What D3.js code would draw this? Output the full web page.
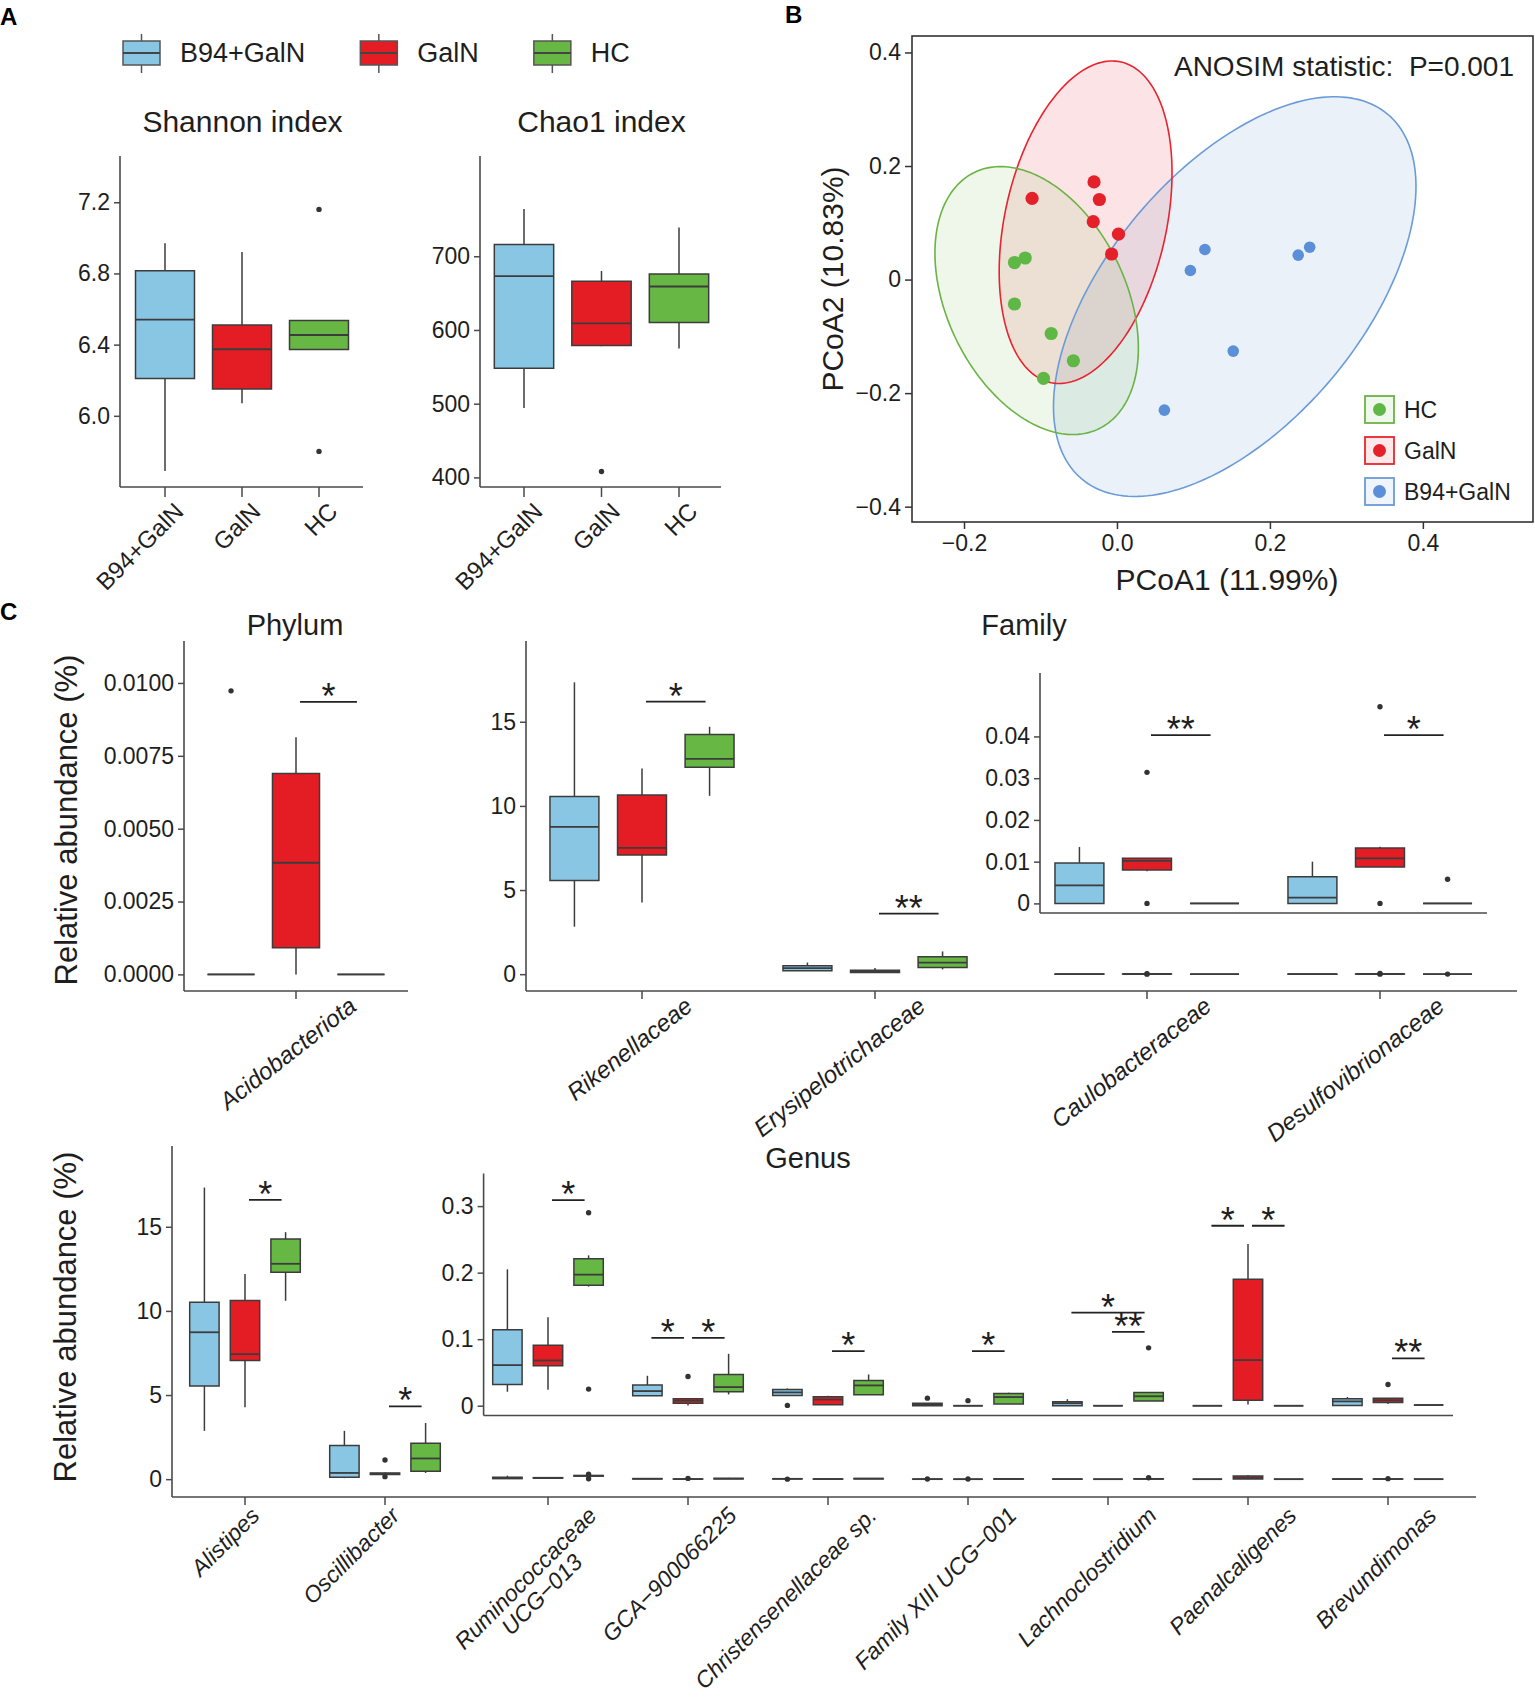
<!DOCTYPE html>
<html>
<head>
<meta charset="utf-8">
<script src="https://cdn.jsdelivr.net/npm/d3@7"></script>
<style>
  body { margin: 0; background: #fff; }
  svg { display: block; font-family: "Liberation Sans", Arial, Helvetica, sans-serif; }
</style>
</head>
<body>
<svg id="fig" width="1535" height="1698"></svg>
<script>
// ---------- data ----------
var groups = ["B94+GalN", "GalN", "HC"];

// A: alpha diversity, each box = [min, q1, median, q3, max]
var shannonBox = [[5.69, 6.21, 6.54, 6.815, 6.97], [6.07, 6.15, 6.374, 6.51, 6.92], [6.372, 6.372, 6.454, 6.535, 6.535]];
var shannonOut = [[], [], [7.16, 5.80]];
var shannonTicks = [6.0, 6.4, 6.8, 7.2];
var chaoBox = [[494, 548, 673, 716, 764], [578, 579, 609, 666, 680], [575, 610, 659, 676, 739]];
var chaoOut = [[], [408], []];
var chaoTicks = [400, 500, 600, 700];

// B: PCoA scores
var hcX = [-0.134, -0.120, -0.134, -0.086, -0.057, -0.096];
var hcY = [0.030, 0.038, -0.043, -0.095, -0.143, -0.174];
var galnX = [-0.030, -0.023, -0.111, -0.031, 0.002, -0.007];
var galnY = [0.172, 0.141, 0.143, 0.102, 0.080, 0.045];
var b94X = [0.115, 0.096, 0.237, 0.252, 0.152, 0.062];
var b94Y = [0.053, 0.016, 0.043, 0.057, -0.126, -0.230];
// ellipses: [centre x, centre y, half x-extent, half y-extent, correlation]
var ellHC = [-0.105, -0.037, 0.133, 0.236, -0.355];
var ellGalN = [-0.041, 0.101, 0.113, 0.284, 0.306];
var ellB94 = [0.154, -0.030, 0.237, 0.352, 0.551];
var pcoaXTicks = [-0.2, 0, 0.2, 0.4], pcoaXLabels = ["\u22120.2", "0.0", "0.2", "0.4"];
var pcoaYTicks = [-0.4, -0.2, 0, 0.2, 0.4], pcoaYLabels = ["\u22120.4", "\u22120.2", "0", "0.2", "0.4"];

// C: relative abundance
var phylumTaxa = ["Acidobacteriota"];
var phylumBox = [[[0, 0, 0, 0, 0], [0, 0.00091, 0.00383, 0.00689, 0.00814], [0, 0, 0, 0, 0]]];
var phylumOut = [[[0.00973], [], []]];
var phylumSig = [["Acidobacteriota", "GalN", "HC", 0.00935, "*"]];
var phylumTicks = [0, 0.0025, 0.005, 0.0075, 0.01];

var familyTaxa = ["Rikenellaceae", "Erysipelotrichaceae"];
var familyBox = [
  [[2.82, 5.56, 8.75, 10.56, 17.34], [4.26, 7.08, 7.5, 10.65, 12.22], [10.6, 12.3, 12.8, 14.25, 14.7]],
  [[0.2, 0.2, 0.36, 0.5, 0.69], [0.1, 0.1, 0.18, 0.24, 0.36], [0.28, 0.4, 0.69, 1.03, 1.35]]
];
var familyOut = [[[], [], []], [[], [], []]];
var familySig = [["Rikenellaceae", "GalN", "HC", 16.2, "*"], ["Erysipelotrichaceae", "GalN", "HC", 3.6, "**"]];
var familyInTaxa = ["Caulobacteraceae", "Desulfovibrionaceae"];
var familyInBox = [
  [[0, 0, 0.0043, 0.0097, 0.0135], [0.0077, 0.008, 0.0102, 0.0108, 0.0108], [0, 0, 0, 0, 0]],
  [[0, 0, 0.0014, 0.0064, 0.01], [0.0087, 0.0087, 0.0108, 0.0133, 0.0136], [0, 0, 0, 0, 0]]
];
var familyInOut = [[[], [0.0314, 0], []], [[], [0.0471, 0], [0.0058]]];
var familyInSig = [["Caulobacteraceae", "GalN", "HC", 0.0403, "**"], ["Desulfovibrionaceae", "GalN", "HC", 0.0403, "*"]];
var mainTicks = [0, 5, 10, 15];
var familyInTicks = [0, 0.01, 0.02, 0.03, 0.04], familyInLabels = ["0", "0.01", "0.02", "0.03", "0.04"];

var genusTaxa = ["Alistipes", "Oscillibacter"];
var genusBox = [
  [[2.87, 5.54, 8.73, 10.52, 17.33], [4.27, 7.05, 7.43, 10.62, 12.2], [10.6, 12.3, 12.8, 14.27, 14.68]],
  [[0.06, 0.11, 0.37, 2.0, 2.87], [0.26, 0.27, 0.32, 0.37, 0.4], [0.37, 0.47, 1.23, 2.13, 3.34]]
];
var genusOut = [[[], [], []], [[], [1.14, 0.15], []]];
var genusSig = [["Alistipes", "GalN", "HC", 16.6, "*"], ["Oscillibacter", "GalN", "HC", 4.33, "*"]];
var genusInTaxa = ["Ruminococcaceae\nUCG\u2212013", "GCA\u2212900066225", "Christensenellaceae sp.", "Family XIII UCG\u2212001",
  "Lachnoclostridium", "Paenalcaligenes", "Brevundimonas"];
var genusInBox = [
  [[0.021, 0.032, 0.061, 0.114, 0.205], [0.024, 0.06, 0.068, 0.091, 0.133], [0.179, 0.181, 0.197, 0.221, 0.226]],
  [[0.015, 0.015, 0.022, 0.031, 0.045], [0.0005, 0.0038, 0.0076, 0.0103, 0.0103], [0.017, 0.021, 0.028, 0.047, 0.078]],
  [[0.0152, 0.0152, 0.02, 0.0245, 0.026], [0.0016, 0.0016, 0.0093, 0.0136, 0.015], [0.0163, 0.0163, 0.0305, 0.038, 0.047]],
  [[0, 0, 0.0016, 0.0038, 0.0038], [0, 0, 0, 0, 0], [0.0027, 0.0027, 0.013, 0.0185, 0.0196]],
  [[0, 0, 0.0038, 0.006, 0.0098], [0, 0, 0, 0, 0], [0.007, 0.0071, 0.0142, 0.02, 0.02]],
  [[0, 0, 0, 0, 0], [0.002, 0.0082, 0.0686, 0.19, 0.243], [0, 0, 0, 0, 0]],
  [[0, 0.0005, 0.0065, 0.0103, 0.013], [0.0027, 0.0049, 0.0082, 0.0114, 0.0114], [0.001, 0.001, 0.001, 0.001, 0.001]]
];
var genusInOut = [
  [[], [], [0.29, 0.025]], [[], [0.044], []], [[0.0005], [], []], [[0.0114], [0.0076], []],
  [[], [], [0.087]], [[], [], []], [[], [0.032], []]
];
var genusInSig = [
  [0, "GalN", "HC", 0.309, "*"], [1, "B94+GalN", "GalN", 0.102, "*"], [1, "GalN", "HC", 0.102, "*"],
  [2, "GalN", "HC", 0.082, "*"], [3, "GalN", "HC", 0.082, "*"], [4, "B94+GalN", "HC", 0.140, "*"],
  [4, "GalN", "HC", 0.111, "**"], [5, "B94+GalN", "GalN", 0.2705, "*"], [5, "GalN", "HC", 0.2705, "*"],
  [6, "GalN", "HC", 0.0713, "**"]
];
var genusInTicks = [0, 0.1, 0.2, 0.3], genusInLabels = ["0", "0.1", "0.2", "0.3"];

// ---------- styles ----------
var fillCol = {"B94+GalN": "#88c6e4", "GalN": "#e41d25", "HC": "#67b744"};
var pcoaCol = {"HC": "#5fb845", "GalN": "#e4202a", "B94+GalN": "#5b8fd8"};
var ellStroke = {"HC": "#6ab344", "GalN": "#e8242e", "B94+GalN": "#6a9bd8"};
var axisCol = "#4a4a4a", boxLine = "#3c3c3c", textCol = "#1e1e1e";

var svg = d3.select("#fig");

// ---------- helpers ----------
function line(x1, y1, x2, y2, col, w) {
  svg.append("line").attr("x1", x1).attr("y1", y1).attr("x2", x2).attr("y2", y2)
    .attr("stroke", col || axisCol).attr("stroke-width", w || 1.6);
}
function label(x, y, txt, size, anchor, extra) {
  var t = svg.append("text").attr("x", x).attr("y", y).attr("fill", textCol)
    .style("font-size", size + "px").attr("text-anchor", anchor || "start").text(txt);
  if (extra) extra(t);
  return t;
}
function yAxis(x, scale, ticks, labels, size, top, bottom) {
  var g = svg.append("g").attr("transform", "translate(" + x + ",0)")
    .call(d3.axisLeft(scale).tickValues(ticks).tickSize(6).tickPadding(4)
      .tickFormat(function (d, i) { return labels ? labels[i] : d; }));
  g.select(".domain").remove();
  g.selectAll(".tick line").attr("stroke", axisCol).attr("stroke-width", 1.5);
  g.selectAll(".tick text").attr("fill", textCol).style("font-size", size + "px")
    .style("font-family", '"Liberation Sans", Arial, sans-serif');
  line(x, top, x, bottom);
}
function xTicks(xs, y, len) {
  xs.forEach(function (x) { line(x, y, x, y + len, axisCol, 1.5); });
}
function rotLabels(xs, texts, y, dx, dy, angle, size, italic) {
  xs.forEach(function (x, i) {
    var g = svg.append("g").attr("transform", "translate(" + (x + dx) + "," + (y + dy) + ") rotate(" + (-angle) + ")");
    var parts = texts[i].split("\n");
    var first = g.append("text").attr("text-anchor", "end").attr("fill", textCol)
      .style("font-size", size + "px").style("font-style", italic ? "italic" : "normal").text(parts[0]);
    var w = first.node().getComputedTextLength();
    parts.slice(1).forEach(function (p, k) {
      g.append("text").attr("text-anchor", "middle").attr("x", -w / 2).attr("y", (k + 1) * size * 1.0)
        .attr("fill", textCol).style("font-size", size + "px")
        .style("font-style", italic ? "italic" : "normal").text(p);
    });
  });
}
function box(cx, w, s, outl, y, grp) {
  var x0 = cx - w / 2, x1 = cx + w / 2;
  line(cx, y(s[4]), cx, y(s[3]), boxLine, 1.5);
  line(cx, y(s[1]), cx, y(s[0]), boxLine, 1.5);
  svg.append("path")
    .attr("d", "M" + x0 + "," + y(s[3]) + "H" + x1 + "V" + y(s[1]) + "H" + x0 + "Z")
    .attr("fill", fillCol[grp]).attr("stroke", boxLine).attr("stroke-width", 1.5);
  line(x0, y(s[2]), x1, y(s[2]), boxLine, 1.8);
  outl.forEach(function (v) {
    svg.append("circle").attr("cx", cx).attr("cy", y(v)).attr("r", 2.7).attr("fill", "#333");
  });
}
function groupCenter(xBand, taxon, grp) {
  var bw = xBand.bandwidth();
  return xBand(taxon) + bw / 2 + (groups.indexOf(grp) - 1) * bw * 0.29;
}
function taxonBoxes(taxa, boxes, outs, xBand, y) {
  var bw = xBand.bandwidth();
  taxa.forEach(function (t, i) {
    groups.forEach(function (grp, j) {
      box(groupCenter(xBand, t, grp), bw * 0.21, boxes[i][j], outs[i][j], y, grp);
    });
  });
}
function sigBars(sigs, xBand, taxa, y) {
  sigs.forEach(function (s) {
    var t = typeof s[0] === "number" ? taxa[s[0]] : s[0];
    var x1 = groupCenter(xBand, t, s[1]) + 4, x2 = groupCenter(xBand, t, s[2]) - 4, yy = y(s[3]);
    line(x1, yy, x2, yy, "#222", 1.8);
    label((x1 + x2) / 2, yy + 7, s[4], 36, "middle");
  });
}

// ---------- panel letters ----------
[["A", 0, 25], ["B", 785, 23], ["C", 0, 620]].forEach(function (p) {
  label(p[1], p[2], p[0], 24, "start", function (t) { t.style("font-weight", "bold").attr("fill", "#000"); });
});

// ---------- A: legend ----------
var lx = 123;
groups.forEach(function (grp) {
  var cx = lx + 18.5;
  line(cx, 34, cx, 73, "#555", 1.5);
  svg.append("rect").attr("x", lx).attr("y", 41).attr("width", 37).attr("height", 24)
    .attr("fill", fillCol[grp]).attr("stroke", "#555").attr("stroke-width", 1.5);
  line(lx, 53, lx + 37, 53, "#444", 1.8);
  var t = label(lx + 57, 62, grp, 27);
  lx = lx + 57 + t.node().getComputedTextLength() + 55;
});

// ---------- A: Shannon / Chao1 ----------
function alphaPanel(left, right, bandRange, dom, ticks, fmt, boxes, outs, title) {
  var x = d3.scaleBand().domain(groups).range(bandRange);
  var y = d3.scaleLinear().domain(dom).range([487, 156]);
  yAxis(left, y, ticks, ticks.map(fmt), 23, 156, 487);
  line(left, 487, right, 487);
  groups.forEach(function (grp, j) {
    box(x(grp) + x.bandwidth() / 2, x.bandwidth() * 0.766, boxes[j], outs[j], y, grp);
  });
  var cs = groups.map(function (g) { return x(g) + x.bandwidth() / 2; });
  xTicks(cs, 487, 10);
  rotLabels(cs, groups, 487, 20, 26, 45, 24, false);
  label((left + right) / 2 + 1, 132, title, 30, "middle");
}
alphaPanel(120, 363, [126.5, 357.5], [5.6, 7.46], shannonTicks, d3.format(".1f"), shannonBox, shannonOut, "Shannon index");
alphaPanel(480, 721, [485.25, 717.75], [387, 836], chaoTicks, String, chaoBox, chaoOut, "Chao1 index");

// ---------- B: PCoA ----------
var xP = d3.scaleLinear().domain([-0.268, 0.544]).range([912, 1533]);
var yP = d3.scaleLinear().domain([-0.427, 0.429]).range([522, 36]);
var ellipses = [["B94+GalN", ellB94, 0.14], ["GalN", ellGalN, 0.12], ["HC", ellHC, 0.11]];
var ellPath = d3.line().x(function (d) { return xP(d[0]); }).y(function (d) { return yP(d[1]); });
function ellPoints(e) {
  return d3.range(0, 201).map(function (k) {
    var t = k / 200 * 2 * Math.PI;
    return [e[0] + e[2] * Math.cos(t), e[1] + e[3] * (e[4] * Math.cos(t) + Math.sqrt(1 - e[4] * e[4]) * Math.sin(t))];
  });
}
ellipses.forEach(function (e) {
  svg.append("path").attr("d", ellPath(ellPoints(e[1]))).attr("fill", ellStroke[e[0]]).attr("fill-opacity", e[2]);
});
ellipses.forEach(function (e) {
  svg.append("path").attr("d", ellPath(ellPoints(e[1]))).attr("fill", "none")
    .attr("stroke", ellStroke[e[0]]).attr("stroke-width", 1.6);
});
[["HC", hcX, hcY, 6.6], ["GalN", galnX, galnY, 6.6], ["B94+GalN", b94X, b94Y, 5.8]].forEach(function (s) {
  s[1].forEach(function (v, i) {
    svg.append("circle").attr("cx", xP(v)).attr("cy", yP(s[2][i])).attr("r", s[3]).attr("fill", pcoaCol[s[0]]);
  });
});
svg.append("rect").attr("x", 912).attr("y", 36).attr("width", 621).attr("height", 486)
  .attr("fill", "none").attr("stroke", "#333").attr("stroke-width", 1.6);
var gx = svg.append("g").attr("transform", "translate(0,522)")
  .call(d3.axisBottom(xP).tickValues(pcoaXTicks).tickSize(7).tickPadding(6)
    .tickFormat(function (d, i) { return pcoaXLabels[i]; }));
gx.select(".domain").remove();
gx.selectAll(".tick line").attr("stroke", "#333").attr("stroke-width", 1.5);
gx.selectAll(".tick text").attr("fill", textCol).style("font-size", "23px");
var gy = svg.append("g").attr("transform", "translate(912,0)")
  .call(d3.axisLeft(yP).tickValues(pcoaYTicks).tickSize(7).tickPadding(4)
    .tickFormat(function (d, i) { return pcoaYLabels[i]; }));
gy.select(".domain").remove();
gy.selectAll(".tick line").attr("stroke", "#333").attr("stroke-width", 1.5);
gy.selectAll(".tick text").attr("fill", textCol).style("font-size", "23px");
label(1227, 590, "PCoA1 (11.99%)", 30, "middle");
label(0, 0, "PCoA2 (10.83%)", 30, "middle", function (t) { t.attr("transform", "translate(843,279) rotate(-90)"); });
label(1514, 76, "ANOSIM statistic:  P=0.001", 28, "end", function (t) { t.style("white-space", "pre"); });
["HC", "GalN", "B94+GalN"].forEach(function (grp, i) {
  var yy = 396 + i * 41;
  svg.append("rect").attr("x", 1365).attr("y", yy).attr("width", 29).attr("height", 27)
    .attr("fill", ellStroke[grp]).attr("fill-opacity", 0.1)
    .attr("stroke", ellStroke[grp]).attr("stroke-width", 1.8);
  svg.append("circle").attr("cx", 1379.5).attr("cy", yy + 13.5).attr("r", 6.5).attr("fill", pcoaCol[grp]);
  label(1404, yy + 22, grp, 23);
});

// ---------- C: Phylum ----------
var xPh = d3.scaleBand().domain(phylumTaxa).range([184, 408]);
var yPh = d3.scaleLinear().domain([-0.00057, 0.01144]).range([991, 641]);
yAxis(184, yPh, phylumTicks, phylumTicks.map(d3.format(".4f")), 23, 641, 991);
line(184, 991, 408, 991);
taxonBoxes(phylumTaxa, phylumBox, phylumOut, xPh, yPh);
sigBars(phylumSig, xPh, phylumTaxa, yPh);
var phC = phylumTaxa.map(function (t) { return xPh(t) + xPh.bandwidth() / 2; });
xTicks(phC, 991, 8);
rotLabels(phC, phylumTaxa, 991, 62, 18, 38, 24, true);
label(295, 635, "Phylum", 29, "middle");
label(0, 0, "Relative abundance (%)", 31, "middle", function (t) { t.attr("transform", "translate(77,820) rotate(-90)"); });

// ---------- C: Family ----------
var xFa = d3.scaleBand().domain(familyTaxa).range([525.5, 991.5]);
var xFaIn = d3.scaleBand().domain(familyInTaxa).range([1030.5, 1496.5]);
var yFa = d3.scaleLinear().domain([-1.0, 19.8]).range([991, 641]);
var yFaIn = d3.scaleLinear().domain([-0.0023, 0.0552]).range([913, 673]);
yAxis(526, yFa, mainTicks, null, 23, 641, 991);
line(526, 991, 1517, 991);
taxonBoxes(familyTaxa, familyBox, familyOut, xFa, yFa);
taxonBoxes(familyInTaxa, familyInBox, familyInOut, xFaIn, yFa);
sigBars(familySig, xFa, familyTaxa, yFa);
yAxis(1040, yFaIn, familyInTicks, familyInLabels, 23, 673, 913);
line(1040, 913, 1487, 913);
taxonBoxes(familyInTaxa, familyInBox, familyInOut, xFaIn, yFaIn);
sigBars(familyInSig, xFaIn, familyInTaxa, yFaIn);
var faMain = familyTaxa.map(function (t) { return xFa(t) + xFa.bandwidth() / 2; });
var faIn = familyInTaxa.map(function (t) { return xFaIn(t) + xFaIn.bandwidth() / 2; });
xTicks(faMain.concat(faIn), 991, 8);
rotLabels(faMain, familyTaxa, 991, 52, 18, 38, 24, true);
rotLabels(faIn, familyInTaxa, 991, 66, 18, 38, 24, true);
label(1024, 635, "Family", 29, "middle");

// ---------- C: Genus ----------
var xGe = d3.scaleBand().domain(genusTaxa).range([175, 455]);
var xGeIn = d3.scaleBand().domain(genusInTaxa).range([478, 1458]);
var yGe = d3.scaleLinear().domain([-1.06, 19.8]).range([1497, 1146]);
var yGeIn = d3.scaleLinear().domain([-0.0147, 0.349]).range([1415.5, 1173.5]);
yAxis(172, yGe, mainTicks, null, 23, 1146, 1497);
line(172, 1497, 1476, 1497);
taxonBoxes(genusTaxa, genusBox, genusOut, xGe, yGe);
taxonBoxes(genusInTaxa, genusInBox, genusInOut, xGeIn, yGe);
sigBars(genusSig, xGe, genusTaxa, yGe);
yAxis(483.6, yGeIn, genusInTicks, genusInLabels, 23, 1173.5, 1415.5);
line(483.6, 1415.5, 1453, 1415.5);
taxonBoxes(genusInTaxa, genusInBox, genusInOut, xGeIn, yGeIn);
sigBars(genusInSig, xGeIn, genusInTaxa, yGeIn);
var geMain = genusTaxa.map(function (t) { return xGe(t) + xGe.bandwidth() / 2; });
var geIn = genusInTaxa.map(function (t) { return xGeIn(t) + xGeIn.bandwidth() / 2; });
xTicks(geMain.concat(geIn), 1497, 8);
rotLabels(geMain, genusTaxa, 1497, 16, 20, 45, 23, true);
rotLabels(geIn, genusInTaxa, 1497, 50, 20, 45, 23, true);
label(808, 1168, "Genus", 29, "middle");
label(0, 0, "Relative abundance (%)", 31, "middle", function (t) { t.attr("transform", "translate(76,1317) rotate(-90)"); });
</script>
</body>
</html>
